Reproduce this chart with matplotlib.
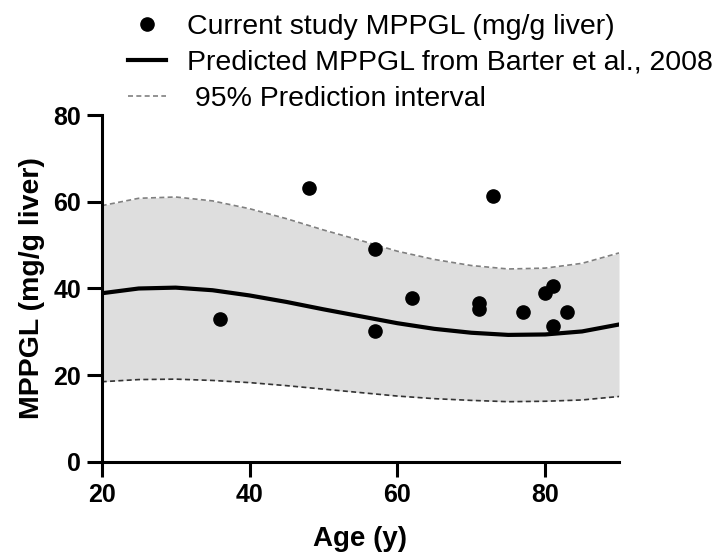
import matplotlib.pyplot as plt
import numpy as np

plt.rcParams['font.family'] = ['Liberation Sans', 'DejaVu Sans']

# Measured points (age, MPPGL)
age = [36, 48, 57, 57, 62, 71, 71, 73, 77, 80, 81, 81, 83]
mppgl = [32.9, 63.1, 49.2, 30.3, 37.7, 36.7, 35.2, 61.3, 34.6, 38.9, 40.5, 31.4, 34.6]

# Predicted curve and 95% prediction interval
curve_age = [20, 25, 30, 35, 40, 45, 50, 55, 60, 65, 70, 75, 80, 85, 90]
pred = [38.9, 40.0, 40.2, 39.6, 38.4, 36.9, 35.2, 33.6, 32.0, 30.7, 29.8, 29.3, 29.4, 30.1, 31.7]
upper = [59.1, 60.8, 61.1, 60.2, 58.4, 56.1, 53.5, 51.1, 48.6, 46.7, 45.3, 44.5, 44.7, 45.8, 48.2]
lower = [18.5, 19.0, 19.1, 18.8, 18.3, 17.6, 16.8, 16.0, 15.2, 14.6, 14.2, 13.9, 14.0, 14.3, 15.1]

fig = plt.figure(figsize=(7.24, 5.57), dpi=100)
ax = fig.add_axes([0.1405, 0.1706, 0.7145, 0.6229])

ax.fill_between(curve_age, lower, upper, color='#dedede', linewidth=0, zorder=1)
ax.plot(curve_age, upper, color='#808080', lw=1.2, ls=(0, (3, 2)), zorder=2,
        label=' 95% Prediction interval')
ax.plot(curve_age, lower, color='#333333', lw=1.2, ls=(0, (3, 2)), zorder=2)
ax.plot(curve_age, pred, color='black', lw=3, zorder=3,
        label='Predicted MPPGL from Barter et al., 2008')
ax.plot(age, mppgl, 'o', color='black', ms=9.5, zorder=4,
        label='Current study MPPGL (mg/g liver)')

ax.set_xlim(20, 90)
ax.set_ylim(0, 80)
ax.set_xticks([20, 40, 60, 80])
ax.set_yticks([0, 20, 40, 60, 80])

for s in ['top', 'right']:
    ax.spines[s].set_visible(False)
for s in ['left', 'bottom']:
    ax.spines[s].set_linewidth(2.2)
ax.tick_params(width=2.2, length=11, labelsize=18, pad=4)
for lab in ax.get_xticklabels() + ax.get_yticklabels():
    lab.set_fontweight('bold')

ax.set_xlabel('Age (y)', fontsize=20, fontweight='bold', labelpad=14)
ax.set_ylabel('MPPGL (mg/g liver)', fontsize=20.5, fontweight='bold', labelpad=6)

h, l = ax.get_legend_handles_labels()
ax.legend(h[::-1], l[::-1], loc='lower left', bbox_to_anchor=(0.05, 1.01),
          frameon=False, fontsize=20.5, handlelength=1.35, handletextpad=0.75,
          labelspacing=0.35, borderaxespad=0, borderpad=0)

fig.savefig('out.png', dpi=100)
